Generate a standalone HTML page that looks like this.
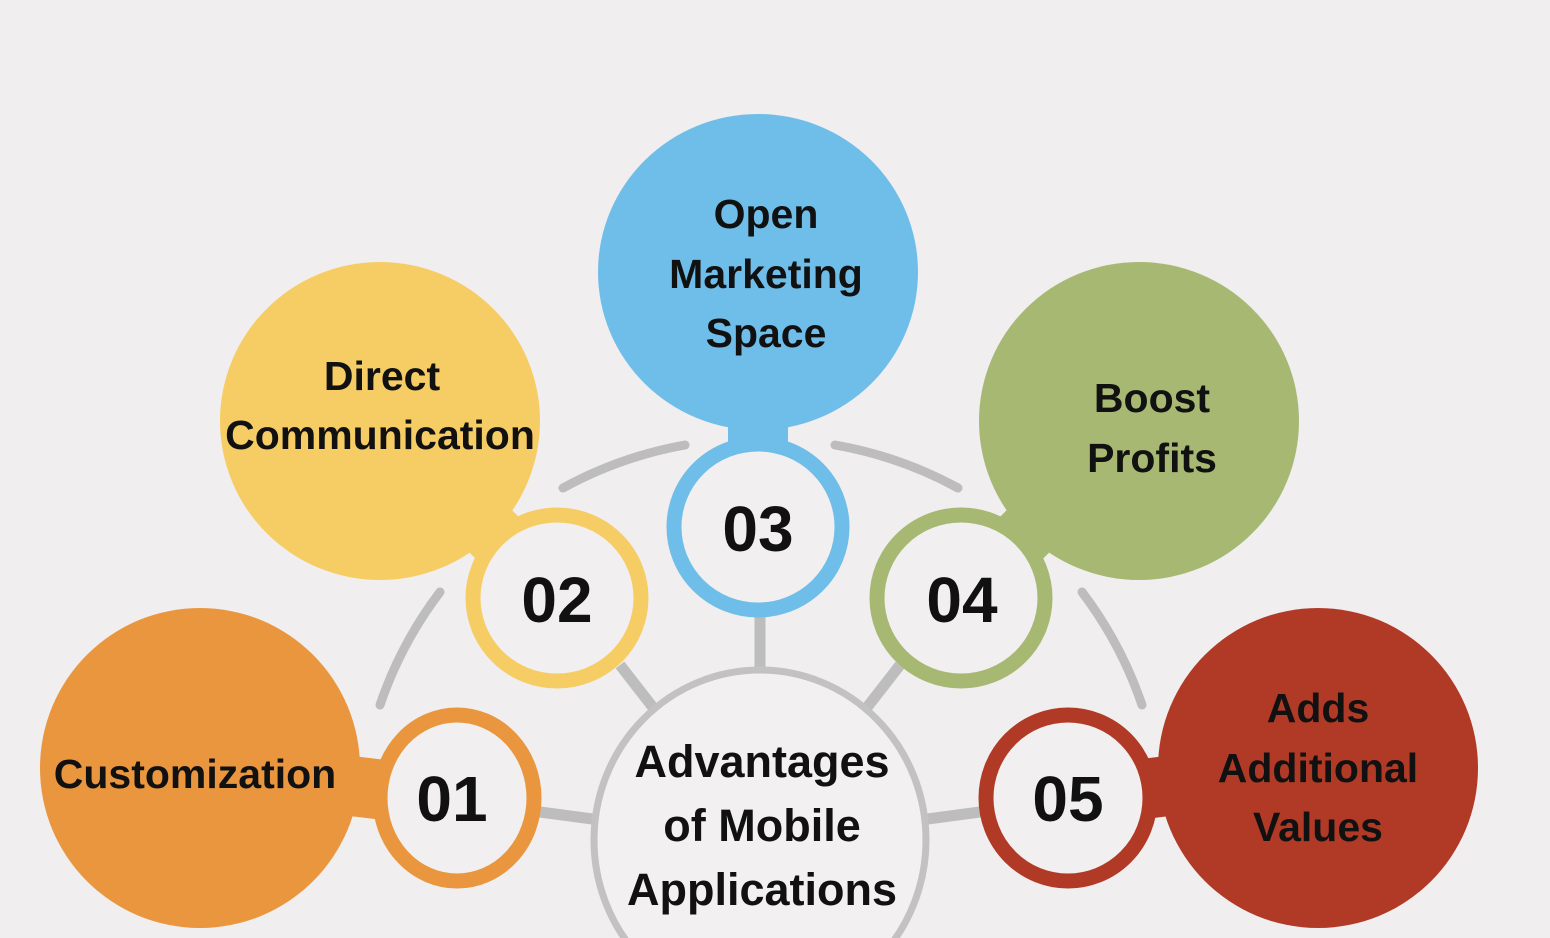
<!DOCTYPE html>
<html><head><meta charset="utf-8"><style>
html,body{margin:0;background:#f0eeef;width:1550px;height:938px;overflow:hidden;}
svg{display:block}
text{font-family:"Liberation Sans",sans-serif;font-weight:bold;fill:#111;text-anchor:middle}
</style></head><body>
<svg width="1550" height="938" viewBox="0 0 1550 938">
<rect width="1550" height="938" fill="#f0eeef"/>
<g stroke="#bdbdbd" stroke-width="9" fill="none" stroke-linecap="round">
<path d="M380 705 A400 400 0 0 1 440 592"/>
<path d="M563 488 A400 400 0 0 1 685 445"/>
<path d="M835 445 A400 400 0 0 1 958 488"/>
<path d="M1082 592 A400 400 0 0 1 1142 705"/>
</g>
<g stroke="#bdbdbd" stroke-width="11">
<line x1="540" y1="812" x2="600" y2="820"/>
<line x1="620" y1="665" x2="655" y2="710"/>
<line x1="760" y1="615" x2="760" y2="672"/>
<line x1="900" y1="665" x2="865" y2="710"/>
<line x1="980" y1="812" x2="920" y2="820"/>
</g>
<ellipse cx="760" cy="840" rx="166" ry="170" fill="#f2f0f1" stroke="#c2c2c2" stroke-width="7"/>
<g stroke-width="60">
<line x1="200" y1="768" x2="452" y2="798" stroke="#e9963e"/>
<line x1="380" y1="420" x2="557" y2="598" stroke="#f6cd65"/>
<line x1="758" y1="272" x2="758" y2="527" stroke="#6ebee9"/>
<line x1="1138" y1="420" x2="962" y2="598" stroke="#a7b873"/>
<line x1="1318" y1="768" x2="1068" y2="798" stroke="#b13a27"/>
</g>
<ellipse cx="200" cy="768" rx="160" ry="160" fill="#e9963e"/>
<ellipse cx="380" cy="421" rx="160" ry="159" fill="#f6cd65"/>
<ellipse cx="758" cy="272" rx="160" ry="158" fill="#6ebee9"/>
<ellipse cx="1139" cy="421" rx="160" ry="159" fill="#a7b873"/>
<ellipse cx="1318" cy="768" rx="160" ry="160" fill="#b13a27"/>
<g stroke-width="15" fill="#f1eff0">
<ellipse cx="457" cy="798" rx="77" ry="83" stroke="#e9963e"/>
<ellipse cx="557" cy="598" rx="84" ry="83" stroke="#f6cd65"/>
<ellipse cx="758" cy="527" rx="84" ry="83" stroke="#6ebee9"/>
<ellipse cx="961" cy="598" rx="84" ry="83" stroke="#a7b873"/>
<ellipse cx="1068" cy="798" rx="82" ry="83" stroke="#b13a27"/>
</g>
<g font-size="64" style="fill:#222">
<text x="452" y="821">01</text>
<text x="557" y="622">02</text>
<text x="758" y="551">03</text>
<text x="962" y="622">04</text>
<text x="1068" y="821">05</text>
</g>
<g font-size="41">
<text x="195" y="788">Customization</text>
<text x="382" y="390">Direct</text>
<text x="380" y="449">Communication</text>
<text x="766" y="228">Open</text>
<text x="766" y="288">Marketing</text>
<text x="766" y="347">Space</text>
<text x="1152" y="412">Boost</text>
<text x="1152" y="472">Profits</text>
<text x="1318" y="722">Adds</text>
<text x="1318" y="782">Additional</text>
<text x="1318" y="841">Values</text>
<text x="762" y="777" font-size="45">Advantages</text>
<text x="762" y="841" font-size="45">of Mobile</text>
<text x="762" y="905" font-size="45">Applications</text>
</g>
</svg>
</body></html>
